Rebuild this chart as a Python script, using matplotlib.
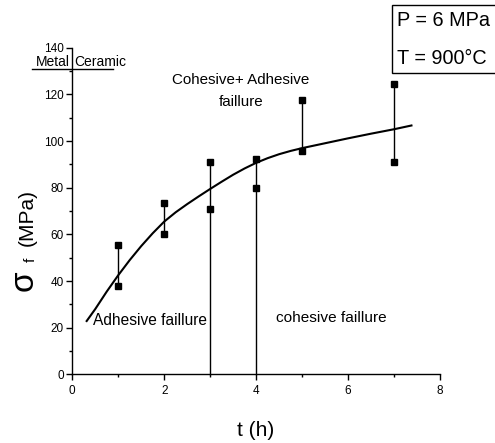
import matplotlib
matplotlib.use("Agg")
import matplotlib.pyplot as plt
import matplotlib.ticker as mt
from matplotlib.patches import Rectangle

FAM = ['Liberation Sans', 'DejaVu Sans']
plt.rcParams['font.family'] = FAM

# measured data (time in h, fracture stress in MPa)
t_pts = [1, 2, 3, 4, 5, 7]
sigma_high = [55.5, 73.4, 91.0, 92.4, 117.7, 124.6]
sigma_low = [38.0, 60.0, 71.0, 80.1, 95.8, 91.2]
# lines from 0 for cohesive/adhesive boundaries
boundary_t = [3, 4]

# fitted curve
curve_t = [0.3, 0.5, 0.75, 1.0, 1.25, 1.5, 1.75, 2.0, 2.25, 2.5, 2.75, 3.0, 3.25, 3.5,
           3.75, 4.0, 4.25, 4.5, 4.75, 5.0, 5.5, 6.0, 6.5, 7.0, 7.4]
curve_s = [22.5, 28.0, 35.5, 42.5, 49.0, 55.0, 60.5, 65.5, 69.5, 73.0, 76.3, 79.5, 82.6, 85.6,
           88.3, 90.7, 92.7, 94.4, 95.8, 97.0, 99.1, 101.2, 103.2, 105.1, 106.8]

xticks = [0, 2, 4, 6, 8]
yticks = [0, 20, 40, 60, 80, 100, 120, 140]

fig = plt.figure(figsize=(4.95, 4.43), dpi=100)
ax = fig.add_axes([0.146, 0.155, 0.743, 0.737])
ax.set_xlim(0, 8)
ax.set_ylim(0, 140)
for s in ['top', 'right']:
    ax.spines[s].set_visible(False)
for s in ['left', 'bottom']:
    ax.spines[s].set_linewidth(1.0)

ax.set_xticks(xticks)
ax.set_yticks(yticks)
ax.xaxis.set_minor_locator(mt.MultipleLocator(1))
ax.yaxis.set_minor_locator(mt.MultipleLocator(10))
ax.tick_params(which='major', direction='out', length=4, width=1, labelsize=8.5)
ax.tick_params(axis='x', which='major', pad=4)
ax.tick_params(axis='y', which='major', pad=2)
ax.tick_params(which='minor', direction='out', length=2.5, width=1)

# vertical ranges
for t, hi, lo in zip(t_pts, sigma_high, sigma_low):
    base = 0 if t in boundary_t else lo
    ax.plot([t, t], [base, hi], color='black', lw=1.0, clip_on=False, zorder=2)
ax.plot(t_pts, sigma_high, ls='none', marker='s', ms=4.5, color='black', zorder=3)
ax.plot(t_pts, sigma_low, ls='none', marker='s', ms=4.5, color='black', zorder=3)

ax.plot(curve_t, curve_s, color='black', lw=1.5, zorder=4, solid_capstyle='butt')

# Metal / Ceramic line
ax.plot([-0.88, 0.88], [130.8, 130.8], color='black', lw=1.0, clip_on=False)
ax.text(-0.05, 132.2, 'Metal', ha='right', va='baseline', fontsize=10)
ax.text(0.05, 132.2, 'Ceramic', ha='left', va='baseline', fontsize=10)

ax.text(0.45, 23, 'Adhesive faillure', ha='left', va='center', fontsize=11.2)
ax.text(5.63, 24.2, 'cohesive faillure', ha='center', va='center', fontsize=11.1)
ax.text(3.67, 126, 'Cohesive+ Adhesive', ha='center', va='center', fontsize=10.9)
ax.text(3.67, 116.6, 'faillure', ha='center', va='center', fontsize=10.9)

# parameter box
fig.patches.append(Rectangle((392 / 495, 1 - 73 / 443), 0.3, 68 / 443,
                             transform=fig.transFigure, fc='white', ec='black', lw=1.0))
fig.text(397 / 495, 1 - 20 / 443, 'P = 6 MPa', ha='left', va='center', fontsize=14.3)
fig.text(397 / 495, 1 - 58 / 443, 'T = 900°C', ha='left', va='center', fontsize=14.3)

# axis labels
fig.text(256 / 495, 1 - 431 / 443, 't (h)', ha='center', va='center', fontsize=15)
fig.text(33 / 495, 1 - 291 / 443, 'σ', ha='left', va='baseline', rotation=90,
         rotation_mode='anchor', fontsize=24)
fig.text(35 / 495, 1 - 262 / 443, 'f', ha='left', va='baseline', rotation=90,
         rotation_mode='anchor', fontsize=11)
fig.text(33 / 495, 1 - 246 / 443, '(MPa)', ha='left', va='baseline', rotation=90,
         rotation_mode='anchor', fontsize=15)

fig.savefig('out.png', dpi=100)
